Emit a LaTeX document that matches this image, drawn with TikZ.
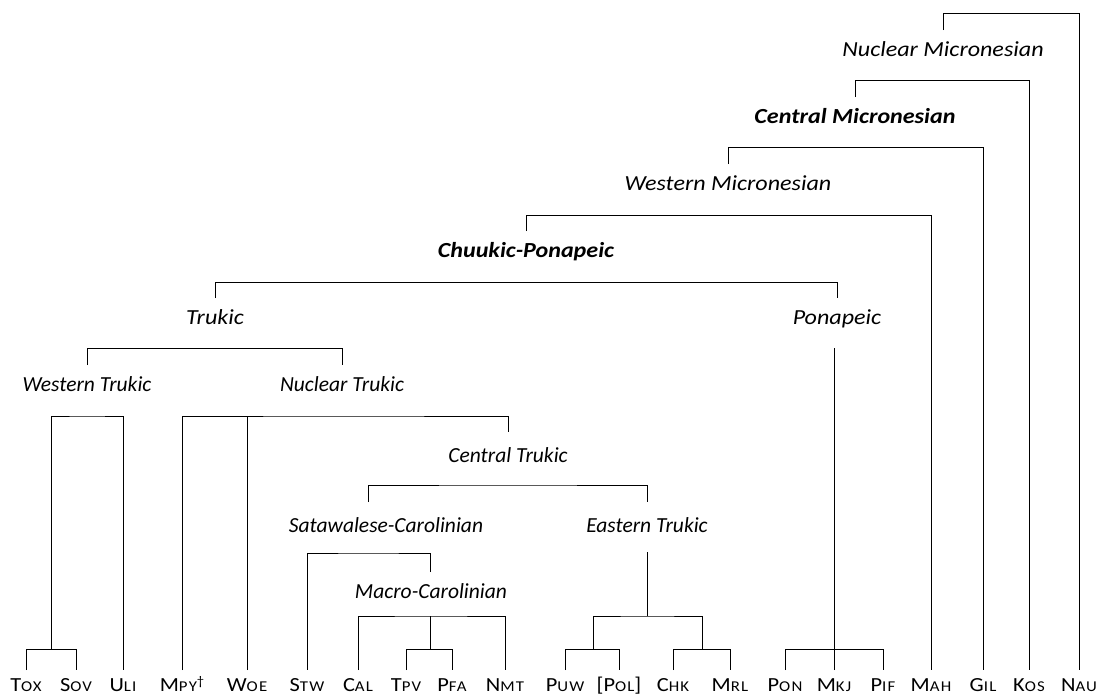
\documentclass[tikz,border=0pt]{standalone}
\usepackage{fontspec}
\setmainfont{Carlito}
\newfontfamily\widefont{Carlito}[FakeStretch=1.12]
\newfontfamily\scwide{Carlito}[FakeStretch=1.12,LetterSpace=8]
\newcommand{\smc}[2]{#1{\scwide\fontsize{15}{16}\selectfont #2}}
\tikzset{
  leaf/.style={anchor=north, inner xsep=0pt, inner ysep=0pt, text height=21pt, text depth=0pt, font=\widefont\fontsize{20}{24}\selectfont},
  clade/.style={anchor=north, inner xsep=0pt, inner ysep=12pt, text height=14pt, text depth=4pt, font=\fontsize{21.5}{26}\selectfont\itshape},
  upper/.style={clade, font=\widefont\fontsize{21.5}{26}\selectfont\itshape},
  major/.style={clade, font=\widefont\fontsize{21.5}{26}\selectfont\bfseries\itshape},
  deep/.style={inner ysep=16pt},
  branch/.style={line width=1pt}
}
\begin{document}
\begin{tikzpicture}[x=1pt,y=-1pt]
      \useasboundingbox (0,0) rectangle (1102,696);
      \path
        (26,670) node[leaf] (tox){\smc{T}{OX}}
        (76,670) node[leaf] (sov){\smc{S}{OV}}
        (123,670) node[leaf] (uli){\smc{U}{LI}}
        (182,670) node[leaf] (mpy){\smc{M}{PY}\raisebox{6pt}{\fontsize{13}{13}\selectfont †}}
        (247,670) node[leaf] (woe){\smc{W}{OE}}
        (307,670) node[leaf] (stw){\smc{S}{TW}}
        (358,670) node[leaf] (cal){\smc{C}{AL}}
        (406,670) node[leaf] (tpv){\smc{T}{PV}}
        (452,670) node[leaf] (pfa){\smc{P}{FA}}
        (505,670) node[leaf] (nmt){\smc{N}{MT}}
        (565,670) node[leaf] (puw){\smc{P}{UW}}
        (619,670) node[leaf] (pol){[\smc{P}{OL}]}
        (673,670) node[leaf] (chk){\smc{C}{HK}}
        (730,670) node[leaf] (mrl){\smc{M}{RL}}
        (785,670) node[leaf] (pon){\smc{P}{ON}}
        (834,670) node[leaf] (mkj){\smc{M}{KJ}}
        (883,670) node[leaf] (pif){\smc{P}{IF}}
        (931,670) node[leaf] (mah){\smc{M}{AH}}
        (983,670) node[leaf] (gil){\smc{G}{IL}}
        (1029,670) node[leaf] (kos){\smc{K}{OS}}
        (1079,670) node[leaf] (nau){\smc{N}{AU}};
      \path
        (943,30) node[upper] (nm){Nuclear Micronesian}
        (855,97) node[major] (cm){Central Micronesian}
        (728,164) node[upper] (wm){Western Micronesian}
        (526,231) node[major] (cp){Chuukic-Ponapeic}
        (215,298) node[upper] (trk){Trukic}
        (837,298) node[upper] (pnp){Ponapeic}
        (87,365) node[clade] (wtk){Western Trukic}
        (342,365) node[clade] (ntk){Nuclear Trukic}
        (508,432) node[clade,deep] (ctk){Central Trukic}
        (386,502) node[clade,deep] (sc){Satawalese-Carolinian}
        (647,502) node[clade,deep] (etk){Eastern Trukic}
        (431,572) node[clade] (mc){Macro-Carolinian};
      \coordinate (ts) at (51,649);
      \coordinate (wtj) at (87,416);
      \coordinate (ntj) at (342,416);
      \coordinate (ctj) at (508,485);
      \coordinate (scj) at (368,553);
      \coordinate (mcj) at (430,616);
      \coordinate (tp) at (430,649);
      \coordinate (ej) at (647,616);
      \coordinate (pp) at (593,649);
      \coordinate (cmj) at (702,649);
      \coordinate (pj) at (834,649);
      \coordinate (pnb) at (834,348);
      \begin{scope}[branch]
        \draw (nm.north) -- ++(0,-17) -| (nau.north);
        \draw (cm.north) -- ++(0,-17) -| (kos.north);
        \draw (wm.north) -- ++(0,-17) -| (gil.north);
        \draw (cp.north) -- ++(0,-16) -| (mah.north);
        \draw (trk.north) -- ++(0,-16) -| (pnp.north);
        \draw (wtk.north) -- ++(0,-17) -| (ntk.north);
        \draw (tox.north) |- (ts) -| (sov.north);
        \draw (ts) |- (wtj) -| (uli.north);
        \draw (mpy.north) |- (ntj) -| (ctk.north);
        \draw (woe.north) -- (woe.north |- ntj);
        \draw ([xshift=-18pt]sc.north) |- (ctj) -| (etk.north);
        \draw ([xshift=-1pt]mc.north) |- (scj) -| (stw.north);
        \draw (cal.north) |- (mcj) -| (nmt.north);
        \draw (mcj) -- (tp);
        \draw (tpv.north) |- (tp) -| (pfa.north);
        \draw (etk.south) -- (ej);
        \draw (pp) |- (ej) -| (cmj);
        \draw (puw.north) |- (pp) -| (pol.north);
        \draw (chk.north) |- (cmj) -| (mrl.north);
        \draw (pon.north) |- (pj) -| (pif.north);
        \draw (mkj.north) -- (pnb);
      \end{scope}
\end{tikzpicture}
\end{document}
